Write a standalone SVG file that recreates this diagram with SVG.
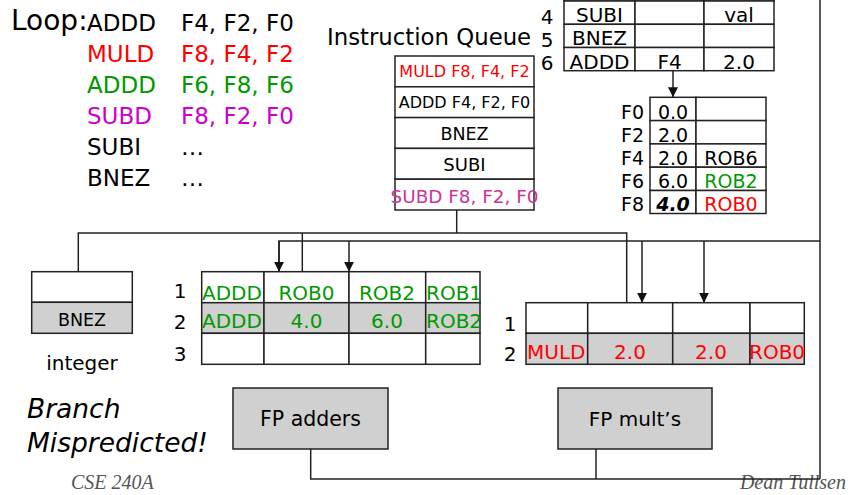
<svg xmlns="http://www.w3.org/2000/svg" width="848" height="495" viewBox="0 0 848 495">
<style>
text{font-family:"DejaVu Sans",Verdana,sans-serif;fill:#000}
.c{text-anchor:middle}
.e{text-anchor:end}
.cell{fill:#fff;stroke:#222;stroke-width:1.5}
.gc{fill:#d0d0d0;stroke:#222;stroke-width:1.5}
.ln{fill:none;stroke:#222;stroke-width:1.5}
.red{fill:#ff0000}
.grn{fill:#009900}
.mag{fill:#cc00cc}
.pink{fill:#cc3399}
.ser{font-family:"Liberation Serif","Times New Roman",serif;font-style:italic;fill:#555}
</style>
<defs>
<marker id="ah" viewBox="0 0 10 10" refX="10" refY="5" markerWidth="10" markerHeight="10" markerUnits="userSpaceOnUse" orient="auto">
<path d="M0,0 L10,5 L0,10 z" fill="#111"/>
</marker>
</defs>
<rect width="848" height="495" fill="#fff"/>

<g id="code">
<text x="11" y="30" font-size="28">Loop:</text>
<g font-size="23">
<text x="87" y="31">ADDD</text><text x="181" y="31">F4, F2, F0</text>
<text x="87" y="62" class="red">MULD</text><text x="181" y="62" class="red">F8, F4, F2</text>
<text x="87" y="93" class="grn">ADDD</text><text x="181" y="93" class="grn">F6, F8, F6</text>
<text x="87" y="124" class="mag">SUBD</text><text x="181" y="124" class="mag">F8, F2, F0</text>
<text x="87" y="155">SUBI</text><text x="181" y="155">…</text>
<text x="87" y="185.5">BNEZ</text><text x="181" y="185.5">…</text>
</g>
</g>

<g id="rob">
<rect class="cell" x="564" y="-22" width="71" height="23"/>
<rect class="cell" x="635" y="-22" width="69" height="23"/>
<rect class="cell" x="704" y="-22" width="70" height="23"/>
<rect class="cell" x="564" y="1" width="71" height="23.3"/>
<rect class="cell" x="635" y="1" width="69" height="23.3"/>
<rect class="cell" x="704" y="1" width="70" height="23.3"/>
<rect class="cell" x="564" y="24.3" width="71" height="23.2"/>
<rect class="cell" x="635" y="24.3" width="69" height="23.2"/>
<rect class="cell" x="704" y="24.3" width="70" height="23.2"/>
<rect class="cell" x="564" y="47.5" width="71" height="23.2"/>
<rect class="cell" x="635" y="47.5" width="69" height="23.2"/>
<rect class="cell" x="704" y="47.5" width="70" height="23.2"/>
<g font-size="20">
<text x="547" y="24" class="c">4</text>
<text x="547" y="47" class="c">5</text>
<text x="547" y="70" class="c">6</text>
<text x="599.5" y="21.7" class="c">SUBI</text>
<text x="739" y="21.7" class="c">val</text>
<text x="599.5" y="45" class="c">BNEZ</text>
<text x="599.5" y="68.5" class="c">ADDD</text>
<text x="669.5" y="68.5" class="c">F4</text>
<text x="739" y="68.5" class="c">2.0</text>
</g>
</g>

<g id="queue">
<text x="327" y="45" font-size="22.8">Instruction Queue</text>
<rect class="cell" x="395" y="56" width="139" height="30.8"/>
<rect class="cell" x="395" y="86.8" width="139" height="30.8"/>
<rect class="cell" x="395" y="117.6" width="139" height="30.8"/>
<rect class="cell" x="395" y="148.4" width="139" height="30.8"/>
<rect class="cell" x="395" y="179.2" width="139" height="30.8"/>
<text x="464.5" y="77" font-size="16" class="c red">MULD F8, F4, F2</text>
<text x="464.5" y="108" font-size="16" class="c">ADDD F4, F2, F0</text>
<text x="464.5" y="140" font-size="17.5" class="c">BNEZ</text>
<text x="464.5" y="171" font-size="18" class="c">SUBI</text>
<text x="464.5" y="202.5" font-size="18.4" class="c pink">SUBD F8, F2, F0</text>
</g>

<g id="regfile">
<rect class="cell" x="650" y="97.3" width="46" height="23.3"/>
<rect class="cell" x="696" y="97.3" width="70" height="23.3"/>
<rect class="cell" x="650" y="120.6" width="46" height="23.3"/>
<rect class="cell" x="696" y="120.6" width="70" height="23.3"/>
<rect class="cell" x="650" y="143.9" width="46" height="23.3"/>
<rect class="cell" x="696" y="143.9" width="70" height="23.3"/>
<rect class="cell" x="650" y="167.2" width="46" height="23.3"/>
<rect class="cell" x="696" y="167.2" width="70" height="23.3"/>
<rect class="cell" x="650" y="190.5" width="46" height="23"/>
<rect class="cell" x="696" y="190.5" width="70" height="23"/>
<g font-size="19">
<text x="644" y="118.5" class="e">F0</text>
<text x="644" y="141.8" class="e">F2</text>
<text x="644" y="165.1" class="e">F4</text>
<text x="644" y="188.2" class="e">F6</text>
<text x="644" y="210.5" class="e">F8</text>
<text x="673" y="118.5" class="c">0.0</text>
<text x="673" y="141.8" class="c">2.0</text>
<text x="673" y="165.1" class="c">2.0</text>
<text x="673" y="188.2" class="c">6.0</text>
<text x="673" y="211" class="c" font-weight="bold" font-style="italic">4.0</text>
<text x="731" y="165.1" class="c">ROB6</text>
<text x="731" y="188.2" class="c grn">ROB2</text>
<text x="731" y="211" class="c red">ROB0</text>
</g>
</g>

<g id="integer">
<rect class="cell" x="31.7" y="271.7" width="100.6" height="30.6"/>
<rect class="gc" x="31.7" y="302.3" width="100.6" height="31"/>
<text x="82" y="326" font-size="17.5" class="c">BNEZ</text>
<text x="82" y="370" font-size="20" class="c">integer</text>
</g>

<g id="addrs">
<rect class="cell" x="201.7" y="271.7" width="62.3" height="31"/>
<rect class="cell" x="264" y="271.7" width="85" height="31"/>
<rect class="cell" x="349" y="271.7" width="76.7" height="31"/>
<rect class="cell" x="425.7" y="271.7" width="54.3" height="31"/>
<rect class="gc" x="201.7" y="302.7" width="62.3" height="30.6"/>
<rect class="gc" x="264" y="302.7" width="85" height="30.6"/>
<rect class="gc" x="349" y="302.7" width="76.7" height="30.6"/>
<rect class="gc" x="425.7" y="302.7" width="54.3" height="30.6"/>
<rect class="cell" x="201.7" y="333.3" width="62.3" height="31"/>
<rect class="cell" x="264" y="333.3" width="85" height="31"/>
<rect class="cell" x="349" y="333.3" width="76.7" height="31"/>
<rect class="cell" x="425.7" y="333.3" width="54.3" height="31"/>
<g font-size="20">
<text x="180" y="298" class="c">1</text>
<text x="180" y="329" class="c">2</text>
<text x="180" y="361" class="c">3</text>
<text x="202" y="299.5" class="grn">ADDD</text>
<text x="306.5" y="299.5" class="c grn">ROB0</text>
<text x="387" y="299.5" class="c grn">ROB2</text>
<text x="426" y="299.5" class="grn">ROB1</text>
<text x="202" y="328" class="grn">ADDD</text>
<text x="306.5" y="328" class="c grn">4.0</text>
<text x="387" y="328" class="c grn">6.0</text>
<text x="426" y="328" class="grn">ROB2</text>
</g>
</g>

<g id="multrs">
<rect class="cell" x="526" y="302.7" width="61.7" height="30.6"/>
<rect class="cell" x="587.7" y="302.7" width="85" height="30.6"/>
<rect class="cell" x="672.7" y="302.7" width="77.3" height="30.6"/>
<rect class="cell" x="750" y="302.7" width="54.3" height="30.6"/>
<rect class="gc" x="526" y="333.3" width="61.7" height="31"/>
<rect class="gc" x="587.7" y="333.3" width="85" height="31"/>
<rect class="gc" x="672.7" y="333.3" width="77.3" height="31"/>
<rect class="gc" x="750" y="333.3" width="54.3" height="31"/>
<g font-size="20">
<text x="510" y="331" class="c">1</text>
<text x="510" y="361" class="c">2</text>
<text x="527" y="358.5" class="red">MULD</text>
<text x="630" y="358.5" class="c red">2.0</text>
<text x="711" y="358.5" class="c red">2.0</text>
<text x="749" y="358.5" class="red">ROB0</text>
</g>
</g>

<g id="fpadd">
<rect class="gc" x="233" y="388" width="155" height="61"/>
<text x="310.5" y="426" font-size="20.5" class="c">FP adders</text>
</g>
<g id="fpmult">
<rect class="gc" x="558" y="388" width="154" height="61"/>
<text x="635" y="426" font-size="20" class="c">FP mult’s</text>
</g>

<g id="notes">
<text x="27" y="418" font-size="26.5" font-style="italic">Branch</text>
<text x="27" y="452" font-size="26.5" font-style="italic">Mispredicted!</text>
<text x="71" y="489" font-size="20" class="ser">CSE 240A</text>
<text x="846" y="489" font-size="20" class="ser e">Dean Tullsen</text>
</g>

<g id="connectors">
<polyline class="ln" points="78.3,271.7 78.3,233 626.7,233 626.7,302.7"/>
<line class="ln" x1="302.3" y1="233" x2="302.3" y2="271.7"/>
<line class="ln" x1="456.7" y1="210" x2="456.7" y2="233"/>
<line class="ln" x1="820" y1="-2" x2="820" y2="479"/>
<polyline class="ln" points="279,271.7 279,241 820,241"/>
<line class="ln" x1="279" y1="241" x2="279" y2="271.7" marker-end="url(#ah)"/>
<line class="ln" x1="349" y1="241" x2="349" y2="271.7" marker-end="url(#ah)"/>
<line class="ln" x1="642" y1="241" x2="642" y2="302.7" marker-end="url(#ah)"/>
<line class="ln" x1="704" y1="241" x2="704" y2="302.7" marker-end="url(#ah)"/>
<line class="ln" x1="673" y1="70.7" x2="673" y2="97.3" marker-end="url(#ah)"/>
<polyline class="ln" points="310.7,449 310.7,479 820,479"/>
<line class="ln" x1="596" y1="449" x2="596" y2="479"/>
</g>
</svg>
